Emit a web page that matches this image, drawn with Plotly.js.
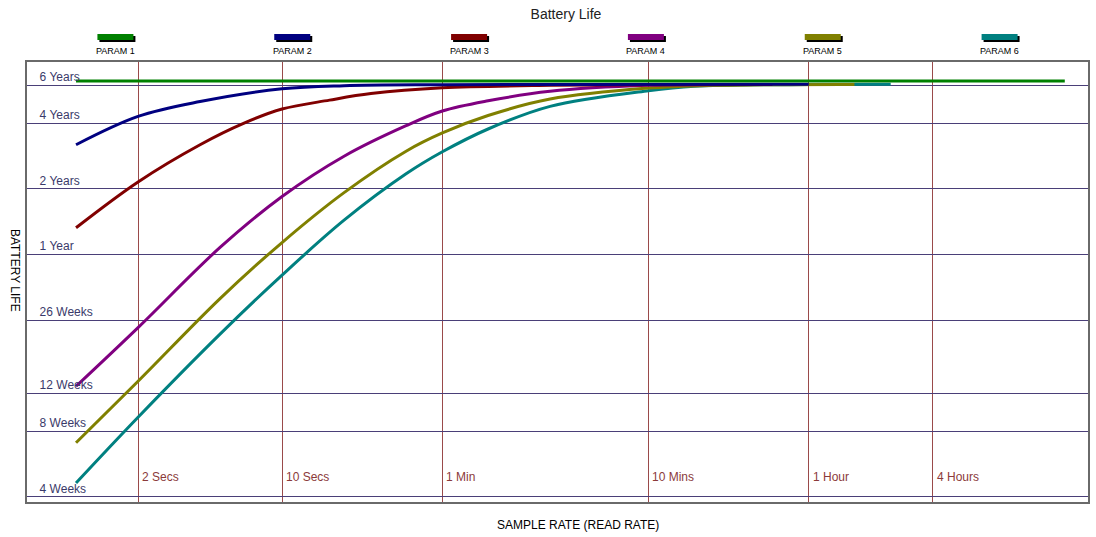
<!DOCTYPE html>
<html>
<head>
<meta charset="utf-8">
<script src="https://cdn.plot.ly/plotly-3.0.1.min.js"></script>
<style>html,body{margin:0;padding:0;background:#fff;}#chart{width:1096px;height:537px;}</style>
</head>
<body>
<div id="chart"></div>
<script>
// Sample rate in seconds (x), battery life in weeks (y)
const seriesNames = ["PARAM 1", "PARAM 2", "PARAM 3", "PARAM 4", "PARAM 5", "PARAM 6"];
const seriesColors = ["#008000", "#000080", "#800000", "#800080", "#808000", "#008080"];

const rateP1 = [1, 63000];
const lifeP1 = [326, 326];

const rateP2 = [1, 2, 4, 10, 20, 60, 300, 3600];
const lifeP2 = [166, 224, 262, 300, 310, 313, 314, 315];

const rateP3 = [1, 2, 4, 6.5, 10, 17, 27, 60, 200, 600, 2400];
const lifeP3 = [69, 112, 166, 208, 242, 266, 285, 303, 311, 313, 314];

const rateP4 = [1, 2, 5, 10, 20, 40, 60, 100, 200, 600, 1800];
const lifeP4 = [12.9, 24, 56, 96, 147, 203, 237, 264, 292, 311, 314];

const rateP5 = [1, 2, 5, 10, 20, 40, 60, 100, 200, 600, 1200, 6000];
const lifeP5 = [7.1, 13.6, 32.6, 59, 100, 155, 188, 226, 269, 302, 311, 314];

const rateP6 = [1, 2, 5, 10, 20, 40, 60, 100, 200, 600, 1000, 3600, 9000];
const lifeP6 = [4.64, 9.3, 22.4, 41.8, 74.7, 122, 154, 196, 249, 294, 308, 314, 315];

const xTickVals = [2, 10, 60, 600, 3600, 14400];
const xTickText = ["2 Secs", "10 Secs", "1 Min", "10 Mins", "1 Hour", "4 Hours"];
const yTickVals = [4, 8, 12, 26, 52, 104, 208, 312];
const yTickText = ["4 Weeks", "8 Weeks", "12 Weeks", "26 Weeks", "1 Year", "2 Years", "4 Years", "6 Years"];

const rates = [rateP1, rateP2, rateP3, rateP4, rateP5, rateP6];
const lives = [lifeP1, lifeP2, lifeP3, lifeP4, lifeP5, lifeP6];

const font = "Arial, 'Liberation Sans', sans-serif";

const traces = [];
for (let i = seriesNames.length - 1; i >= 0; i--) {
  traces.push({
    x: rates[i], y: lives[i], name: seriesNames[i],
    type: "scatter", mode: "lines",
    line: {color: seriesColors[i], width: 3, shape: "spline", smoothing: 1},
    hoverinfo: "x+y+name"
  });
}

const shapes = [];
const annotations = [];
const legendY = (502 - 37) / 440;
const legendLabelY = (502 - 51) / 440;
for (let i = 0; i < seriesNames.length; i++) {
  const cx = (i + 0.5) / seriesNames.length;
  shapes.push({
    type: "rect", xref: "paper", yref: "paper",
    xsizemode: "pixel", ysizemode: "pixel", xanchor: cx, yanchor: legendY,
    x0: -16, x1: 20, y0: -5, y1: 1,
    fillcolor: "#000000", line: {width: 0}
  });
  shapes.push({
    type: "rect", xref: "paper", yref: "paper",
    xsizemode: "pixel", ysizemode: "pixel", xanchor: cx, yanchor: legendY,
    x0: -18, x1: 18, y0: -3, y1: 3,
    fillcolor: seriesColors[i], line: {width: 0}
  });
  annotations.push({
    xref: "paper", yref: "paper", x: cx, y: legendLabelY,
    text: seriesNames[i], showarrow: false,
    xanchor: "center", yanchor: "middle",
    font: {family: font, size: 9, color: "#000000"}
  });
}
// x tick labels, drawn inside the plot to the right of each gridline
for (let i = 0; i < xTickVals.length; i++) {
  annotations.push({
    xref: "x", yref: "paper", x: Math.log10(xTickVals[i]), y: (502 - 477) / 440,
    text: xTickText[i], showarrow: false, xanchor: "left", yanchor: "middle", xshift: 2,
    font: {family: font, size: 12, color: "#8b3a3a"}
  });
}
annotations.push({
  xref: "paper", yref: "paper", x: (15 - 27) / 1061, y: (502 - 270) / 440,
  text: "BATTERY LIFE", showarrow: false, textangle: 90,
  xanchor: "center", yanchor: "middle",
  font: {family: font, size: 12, color: "#000000"}
});
annotations.push({
  xref: "paper", yref: "paper", x: (578 - 27) / 1061, y: -(525 - 502) / 440,
  text: "SAMPLE RATE (READ RATE)", showarrow: false,
  xanchor: "center", yanchor: "middle",
  font: {family: font, size: 12, color: "#000000"}
});

const layout = {
  width: 1096, height: 537,
  margin: {l: 27, r: 8, t: 62, b: 35, pad: 0},
  paper_bgcolor: "#ffffff", plot_bgcolor: "#ffffff",
  showlegend: false,
  title: {
    text: "Battery Life", xref: "container", yref: "container",
    x: 566 / 1096, y: 1 - 14 / 537, xanchor: "center", yanchor: "middle",
    font: {family: font, size: 14, color: "#222222"}
  },
  xaxis: {
    type: "log", range: [-0.238, 4.912],
    tickvals: xTickVals, ticktext: xTickText, showticklabels: false, ticks: "",
    showgrid: true, gridcolor: "#9a4a4a", gridwidth: 1,
    zeroline: false, showline: true, mirror: true, linecolor: "#6a6a6a", linewidth: 2
  },
  yaxis: {
    type: "log", range: [0.579, 2.600],
    tickvals: yTickVals, ticktext: yTickText,
    ticklabelposition: "inside top", ticklabelstandoff: 11, ticks: "",
    tickfont: {family: font, size: 12, color: "#3a3a6a"},
    showgrid: true, gridcolor: "#4a3f78", gridwidth: 1,
    zeroline: false, showline: true, mirror: true, linecolor: "#6a6a6a", linewidth: 2
  },
  shapes: shapes,
  annotations: annotations
};

Plotly.newPlot("chart", traces, layout, {displayModeBar: false, staticPlot: true});
</script>
</body>
</html>
